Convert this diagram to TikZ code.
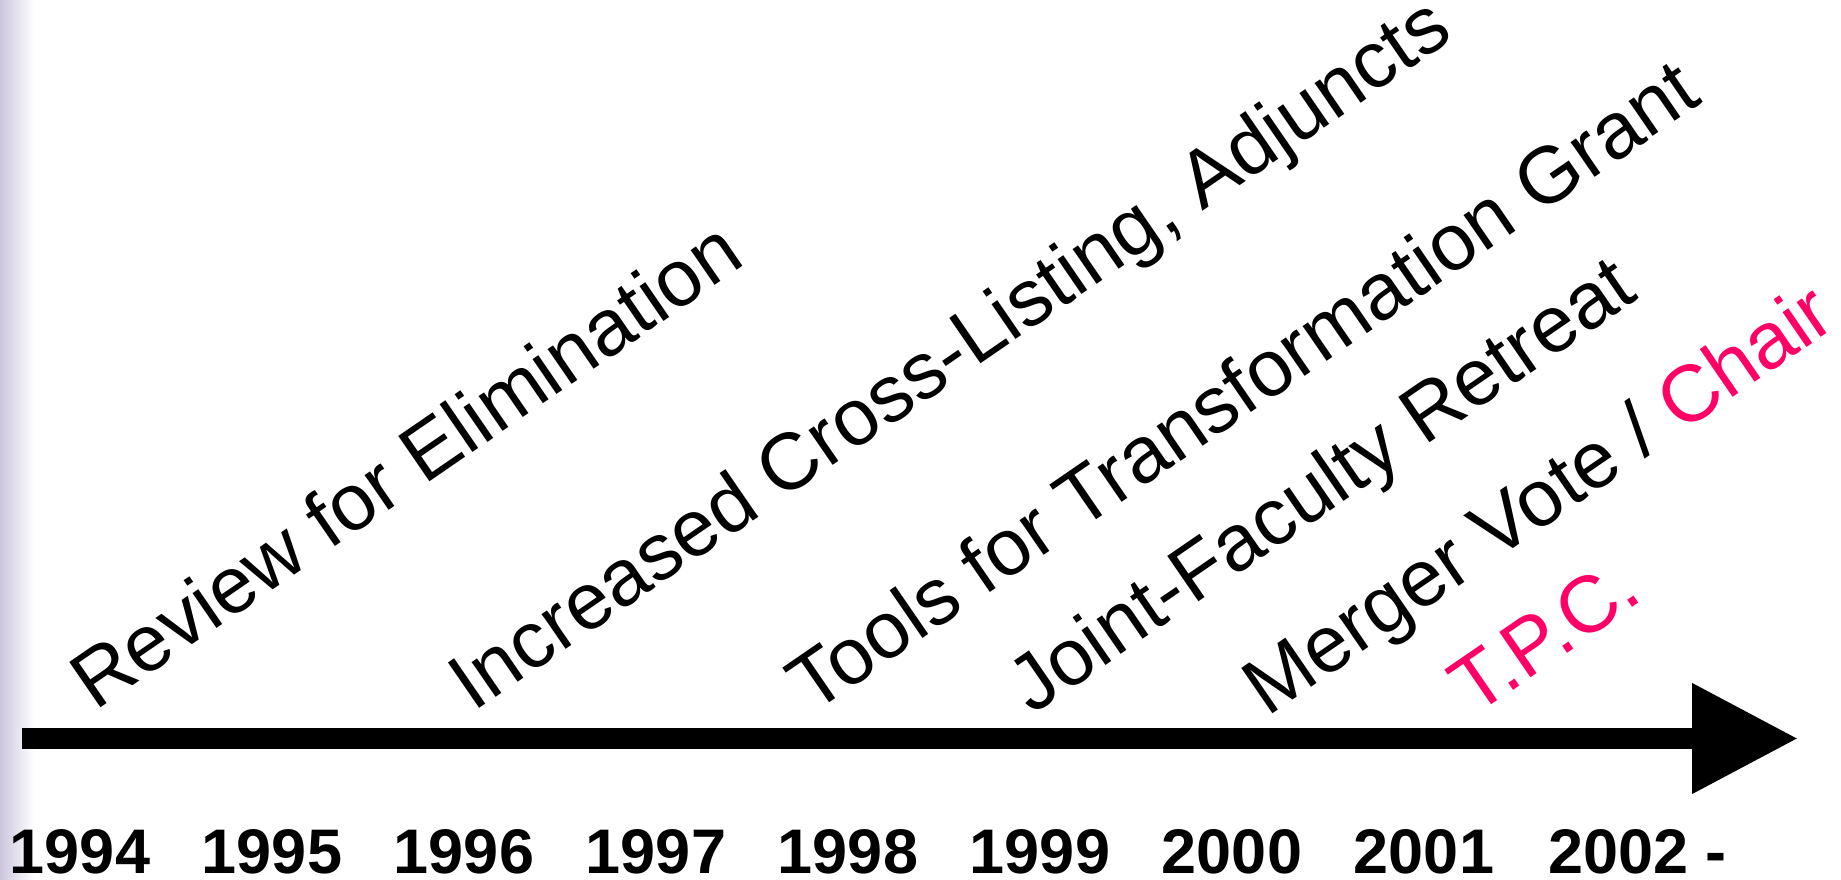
\documentclass[tikz,border=0pt]{standalone}
\usepackage{fontspec}
\setmainfont{Liberation Sans}
\usepackage{tikz}
\usetikzlibrary{arrows.meta}
\definecolor{chairred}{RGB}{255,0,102}
\definecolor{edgelilac}{RGB}{204,197,221}

\begin{document}
\begin{tikzpicture}[x=1pt,y=1pt,
    event/.style={anchor=base west, rotate=34.5, inner sep=0pt, font=\fontsize{80}{96}\selectfont},
    year/.style={anchor=base, inner sep=0pt, font=\fontsize{63}{76}\selectfont\bfseries},
    timeline/.style={line width=21pt, -{Triangle[length=106pt,width=105pt]}}]
        \useasboundingbox (0,0) rectangle (1841,879);

        % lilac strip at the left edge
        \shade[left color=edgelilac, right color=white] (0,0) rectangle (34,879);

        \coordinate (S) at (22,140.5);
        \coordinate (E) at (1798,140.5);

        \draw[timeline] (S) -- (E);

        % events
        \node[event] (rev) at (95,167) {Review for Elimination};
        \node[event] (cross) at (473,166) {Increased Cross-Listing, Adjuncts};
        \node[event] (tools) at (812,164) {Tools for Transformation Grant};
        \node[event] (joint) at (1032,163) {Joint-Faculty Retreat};
        \node[event] (merger) at (1267,161) {Merger Vote / \textcolor{chairred}{Chair}};
        \node[event, text=chairred] (tpc) at (1474,162) {T.P.C.};

        % years
        \foreach \yr [count=\i from 0] in {1994,...,2001}
            \node[year] (y\yr) at ({80+192*\i},6) {\yr};
        \node[year, anchor=base west] (y2002) at (1548,6) {2002 -};

    \end{tikzpicture}
\end{document}
